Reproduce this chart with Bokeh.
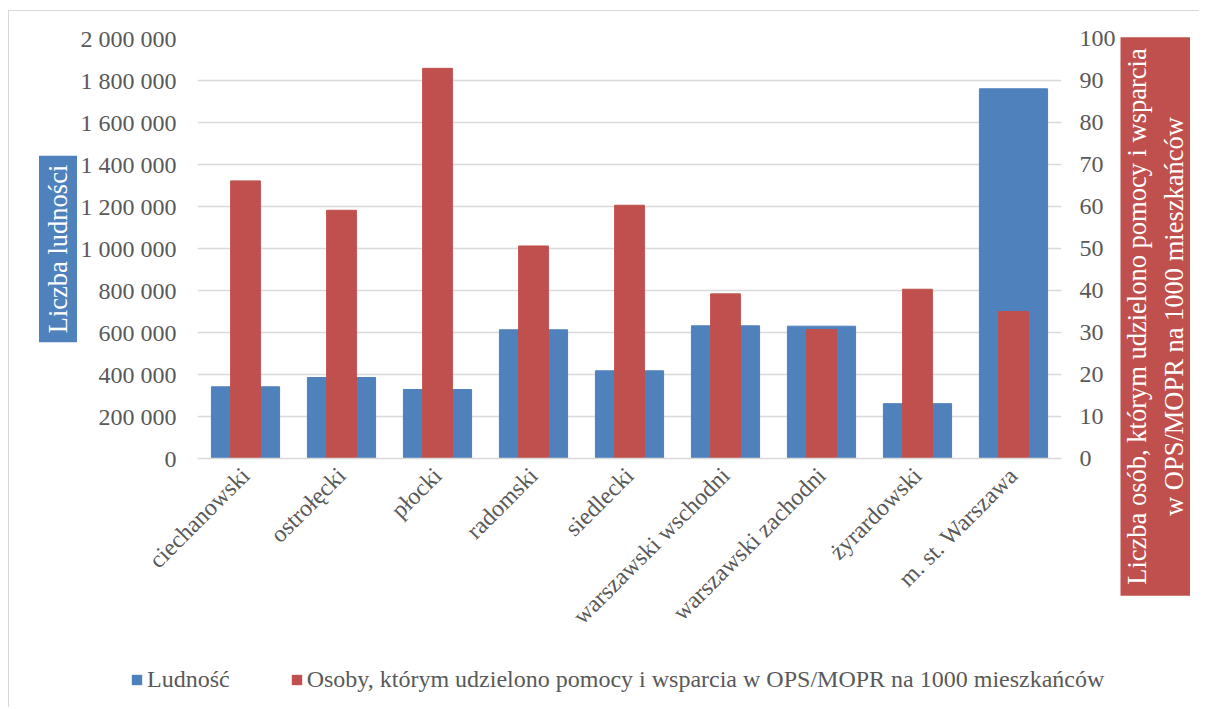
from math import pi
from bokeh.plotting import figure
from bokeh.layouts import row, column
from bokeh.models import (FactorRange, Range1d, LinearAxis, FixedTicker, Label,
                          Legend, LegendItem, ColumnDataSource)
from bokeh.embed import file_html
from bokeh.resources import INLINE

# ---------------- data ----------------
categories = ["ciechanowski", "ostrołęcki", "płocki", "radomski", "siedlecki",
              "warszawski wschodni", "warszawski zachodni", "żyrardowski",
              "m. st. Warszawa"]
ludnosc = [341400, 385700, 328600, 612900, 417600, 631900, 630000, 261000, 1760500]
osoby_na_1000 = [66.1, 59.1, 92.9, 50.6, 60.3, 39.2, 30.7, 40.3, 35.0]

left_ticks = [0, 200000, 400000, 600000, 800000, 1000000, 1200000, 1400000,
              1600000, 1800000, 2000000]
left_tick_labels = ["0", "200 000", "400 000", "600 000", "800 000", "1 000 000",
                    "1 200 000", "1 400 000", "1 600 000", "1 800 000", "2 000 000"]
right_ticks = [0, 10, 20, 30, 40, 50, 60, 70, 80, 90, 100]
right_tick_labels = ["0", "10", "20", "30", "40", "50", "60", "70", "80", "90", "100"]

series_names = ["Ludność",
                "Osoby, którym udzielono pomocy i wsparcia w OPS/MOPR na 1000 mieszkańców"]
left_title = "Liczba ludności"
right_title = "Liczba osób, którym udzielono pomocy i wsparcia\nw OPS/MOPR na 1000 mieszkańców"

# ---------------- styling ----------------
BLUE = "#4F81BD"
RED = "#C0504D"
GRID = "#d9d9d9"
TXT = "#595959"
FONT = "Liberation Serif"
FS = "24px"
H1 = 650       # height of the top row
H2 = 46        # height of the legend strip


def no_align(f):
    if "frame_align" in f.properties():
        f.frame_align = False


def blank(width, height):
    f = figure(width=width, height=height, x_range=Range1d(0, width),
               y_range=Range1d(0, height), min_border=0, x_axis_type=None,
               y_axis_type=None, output_backend="svg", toolbar_location=None)
    f.outline_line_color = None
    f.grid.visible = False
    no_align(f)
    return f


src = ColumnDataSource(dict(cat=categories, pop=ludnosc, osoby=osoby_na_1000))

# ---------------- main chart ----------------
p = figure(x_range=FactorRange(*categories, range_padding=0),
           y_range=Range1d(left_ticks[0], left_ticks[-1]),
           width=1043, height=H1, output_backend="svg", toolbar_location=None,
           min_border_left=120, min_border_right=59, min_border_top=27,
           min_border_bottom=203)
no_align(p)
p.extra_y_ranges = {"right": Range1d(right_ticks[0], right_ticks[-1])}
p.outline_line_color = None

r_blue = p.vbar(x="cat", top="pop", width=0.71, source=src, fill_color=BLUE,
                line_color=BLUE)
r_red = p.vbar(x="cat", top="osoby", width=0.31, source=src, fill_color=RED,
               line_color=RED, y_range_name="right")

p.xgrid.grid_line_color = None
p.ygrid.ticker = FixedTicker(ticks=left_ticks)
p.ygrid.grid_line_color = GRID
p.ygrid.grid_line_width = 1.5

ax_l = p.yaxis[0]
ax_l.ticker = FixedTicker(ticks=left_ticks)
ax_l.major_label_overrides = dict(zip(left_ticks, left_tick_labels))

ax_r = LinearAxis(y_range_name="right", ticker=FixedTicker(ticks=right_ticks))
ax_r.major_label_overrides = dict(zip(right_ticks, right_tick_labels))
p.add_layout(ax_r, "right")

ax_b = p.xaxis[0]
for ax in (ax_l, ax_r, ax_b):
    ax.major_tick_line_color = None
    ax.minor_tick_line_color = None
    ax.major_tick_out = 0
    ax.major_tick_in = 0
    ax.minor_tick_out = 0
    ax.minor_tick_in = 0
    ax.major_label_text_font = FONT
    ax.major_label_text_font_size = FS
    ax.major_label_text_color = TXT
ax_l.axis_line_color = None
ax_r.axis_line_color = None
ax_l.major_label_standoff = 21
ax_r.major_label_standoff = 18

ax_b.axis_line_color = GRID
ax_b.axis_line_width = 1.5
ax_b.major_label_orientation = pi / 4
ax_b.major_label_standoff = 13

# ---------------- axis title boxes ----------------
p_l = blank(68, H1)
p_l.add_layout(Label(x=48.5, y=H1 - 237.5, text=left_title, angle=pi / 2,
                     text_align="center", text_baseline="middle",
                     text_font=FONT, text_font_size="26.5px", text_color="white",
                     background_fill_color=BLUE, background_fill_alpha=1.0,
                     padding=dict(left=9, right=9, top=4, bottom=4)))

p_r = blank(70, H1)
p_r.add_layout(Label(x=35, y=H1 - 305, text=right_title, angle=pi / 2,
                     text_align="center", text_baseline="middle",
                     text_font=FONT, text_font_size="26.5px", text_color="white",
                     text_line_height=1.25,
                     background_fill_color=RED, background_fill_alpha=1.0,
                     padding=dict(left=11, right=11, top=3, bottom=3)))

# ---------------- legend strip ----------------
p_leg = blank(1190, H2)
d_blue = p_leg.vbar(x=[0], top=[0], width=1, fill_color=BLUE, line_color=None)
d_red = p_leg.vbar(x=[0], top=[0], width=1, fill_color=RED, line_color=None)
legend = Legend(items=[LegendItem(label=series_names[0], renderers=[d_blue]),
                       LegendItem(label=series_names[1], renderers=[d_red])],
                orientation="horizontal", location=(121, 14),
                glyph_width=13, glyph_height=13, label_standoff=4, spacing=60,
                padding=0, margin=0, border_line_color=None,
                background_fill_alpha=0,
                label_text_font=FONT, label_text_font_size=FS,
                label_text_color=TXT)
p_leg.add_layout(legend, "center")

layout = column(row(p_l, p, p_r), p_leg,
                styles={"margin-left": "8px", "margin-top": "10px",
                        "border-left": "1px solid #d9d9d9",
                        "border-top": "1px solid #d9d9d9"})

open("out.html", "w").write(file_html(layout, INLINE))
